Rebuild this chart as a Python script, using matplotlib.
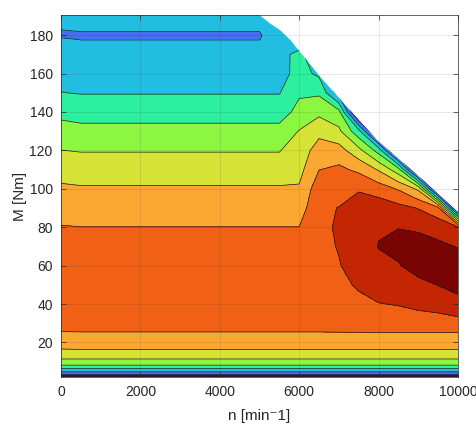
import numpy as np
import matplotlib
matplotlib.use("Agg")
import matplotlib.pyplot as plt
from matplotlib.patches import Polygon

plt.rcParams['font.family'] = ['Liberation Sans', 'DejaVu Sans']

# speed grid [min^-1] (columns) and torque grid [Nm] (rows)
speed = [0, 500, 5000, 5100, 5500, 6000, 6500, 7000, 7500, 8000, 8500, 9000, 9500, 10000]
torque = [2, 3, 4, 5, 6, 7, 8, 10, 12, 16, 20, 25, 30, 40, 50, 60, 70, 80, 90, 100,
          110, 120, 130, 140, 150, 160, 170, 176, 178, 180, 182, 184, 190]

efficiency = [
    [84.9, 84.9, 84.9, 84.9, 84.9, 84.9, 84.9, 84.9, 84.9, 84.9, 84.9, 84.9, 84.9, 84.9],
    [85.7, 85.7, 85.7, 85.7, 85.7, 85.7, 85.7, 85.7, 85.7, 85.7, 85.7, 85.7, 85.7, 85.7],
    [86.5, 86.5, 86.5, 86.5, 86.5, 86.5, 86.5, 86.5, 86.5, 86.5, 86.5, 86.5, 86.5, 86.5],
    [87.2, 87.2, 87.2, 87.2, 87.2, 87.2, 87.2, 87.2, 87.2, 87.2, 87.2, 87.2, 87.2, 87.2],
    [87.8, 87.8, 87.8, 87.8, 87.8, 87.8, 87.8, 87.8, 87.8, 87.8, 87.8, 87.8, 87.8, 87.8],
    [88.3, 88.3, 88.3, 88.3, 88.3, 88.3, 88.3, 88.3, 88.3, 88.3, 88.3, 88.3, 88.3, 88.3],
    [88.95, 88.95, 88.95, 88.95, 88.95, 88.95, 88.95, 88.95, 88.95, 88.95, 88.95, 88.95, 88.95, 88.95],
    [89.55, 89.55, 89.55, 89.55, 89.55, 89.55, 89.55, 89.55, 89.55, 89.55, 89.55, 89.55, 89.55, 89.55],
    [90.2, 90.2, 90.2, 90.2, 90.2, 90.2, 90.2, 90.2, 90.2, 90.2, 90.2, 90.2, 90.2, 90.2],
    [90.95, 90.97, 90.97, 90.97, 90.97, 90.97, 90.97, 90.97, 90.97, 90.97, 90.97, 90.97, 90.97, 90.97],
    [91.3, 91.3, 91.3, 91.3, 91.3, 91.3, 91.3, 91.3, 91.3, 91.3, 91.3, 91.3, 91.3, 91.3],
    [91.97, 91.98, 91.98, 91.98, 91.98, 91.98, 91.98, 91.98, 91.98, 91.98, 91.98, 91.98, 91.98, 91.98],
    [92.2, 92.2, 92.2, 92.2, 92.2, 92.2, 92.2, 92.3, 92.35, 92.4, 92.5, 92.6, 92.65, 92.7],
    [92.5, 92.5, 92.5, 92.5, 92.5, 92.5, 92.5, 92.6, 92.8, 92.97, 93.05, 93.2, 93.3, 93.6],
    [92.6, 92.6, 92.6, 92.6, 92.6, 92.6, 92.65, 92.8, 93.1, 93.4, 93.6, 93.8, 94.02, 94.4],
    [92.6, 92.55, 92.55, 92.55, 92.55, 92.55, 92.7, 92.95, 93.4, 93.85, 93.95, 94.3, 94.5, 94.5],
    [92.4, 92.35, 92.35, 92.35, 92.35, 92.35, 92.75, 93.05, 93.6, 94.02, 94.2, 94.4, 94.2, 93.95],
    [92.06, 92.01, 92.01, 92.01, 92.01, 92.01, 92.8, 93.1, 93.7, 93.95, 93.98, 93.85, 93.6, 93.1],
    [91.5, 91.5, 91.5, 91.5, 91.5, 91.5, 92.85, 93.02, 93.5, 93.6, 93.3, 92.95, 92.3, 84.0],
    [91.18, 91.1, 91.1, 91.1, 91.1, 91.1, 92.6, 92.7, 92.9, 92.5, 91.9, 90.8, 84.0, 84.5],
    [90.55, 90.5, 90.5, 90.5, 90.5, 90.7, 91.98, 92.2, 91.8, 90.9, 89.4, 84.0, 84.5, 84.5],
    [90.01, 89.95, 89.95, 89.95, 89.95, 90.5, 91.4, 91.4, 90.3, 88.6, 84.0, 84.5, 84.5, 84.5],
    [89.35, 89.25, 89.25, 89.25, 89.25, 90.05, 90.75, 90.2, 88.3, 84.0, 84.5, 84.5, 84.5, 84.5],
    [88.75, 88.65, 88.65, 88.65, 88.65, 89.23, 89.75, 89.3, 84.0, 84.5, 84.5, 84.5, 84.5, 84.5],
    [88.02, 87.95, 87.95, 87.95, 87.95, 88.9, 88.85, 86.5, 84.5, 84.5, 84.5, 84.5, 84.5, 84.5],
    [87.6, 87.6, 87.6, 87.6, 87.6, 88.37, 87.8, 85.0, 84.5, 84.5, 84.5, 84.5, 84.5, 84.5],
    [87.4, 87.4, 87.4, 87.4, 87.45, 88.47, 86.5, 84.5, 84.5, 84.5, 84.5, 84.5, 84.5, 84.5],
    [87.3, 87.3, 87.3, 87.3, 87.4, 87.2, 84.5, 84.5, 84.5, 84.5, 84.5, 84.5, 84.5, 84.5],
    [87.15, 86.9, 86.9, 87.3, 87.4, 87.2, 84.5, 84.5, 84.5, 84.5, 84.5, 84.5, 84.5, 84.5],
    [86.7, 86.5, 86.5, 87.3, 87.4, 87.2, 84.5, 84.5, 84.5, 84.5, 84.5, 84.5, 84.5, 84.5],
    [86.8, 87.05, 87.05, 87.3, 87.3, 87.2, 84.5, 84.5, 84.5, 84.5, 84.5, 84.5, 84.5, 84.5],
    [87.3, 87.3, 87.3, 87.3, 87.3, 87.2, 84.5, 84.5, 84.5, 84.5, 84.5, 84.5, 84.5, 84.5],
    [87.5, 87.5, 87.5, 87.5, 87.3, 87.2, 84.5, 84.5, 84.5, 84.5, 84.5, 84.5, 84.5, 84.5],
]

# full-load torque envelope
env_speed = [0, 4800, 5000, 5270, 5520, 5780, 6530, 7200, 7960, 9118, 10000]
env_torque = [200, 200, 190.5, 186, 182.6, 177.4, 158.3, 142.7, 125.4, 104.5, 87.8]

levels = [70, 86, 87, 88, 89, 90, 91, 92, 93, 94, 100]
band_colors = ['#30123b', '#466ef0', '#21bee2', '#2cf09e', '#8bf740',
               '#d5e236', '#faa832', '#f06015', '#c42603', '#7a0403']

xticks = [0, 2000, 4000, 6000, 8000, 10000]
yticks = [20, 40, 60, 80, 100, 120, 140, 160, 180]

W, H = 477, 428
fig = plt.figure(figsize=(W / 100, H / 100), dpi=100)
ax = fig.add_axes([61 / W, 1 - 377 / H, (458 - 61) / W, (377 - 15) / H])

N, T = np.meshgrid(speed, torque)
Z = np.array(efficiency)
cs = ax.contourf(N, T, Z, levels=levels, colors=band_colors)
cl = ax.contour(N, T, Z, levels=levels[1:-1], colors='#1a1a1a', linewidths=0.5)

poly = Polygon(list(zip(env_speed + [10000, 0], env_torque + [0, 0])), closed=True,
               transform=ax.transData, facecolor='none', edgecolor='none')
cs.set_clip_path(poly)
cl.set_clip_path(poly)

ax.set_xlim(0, 10000)
ax.set_ylim(2, 190.5)
ax.set_xticks(xticks)
ax.set_yticks(yticks)
ax.grid(True, color='#262626', alpha=0.15, linewidth=0.5)
ax.set_axisbelow(False)
ax.tick_params(direction='in', top=True, right=True, length=3.5, width=0.5,
               colors='#262626', labelsize=10, pad=6)
for s in ax.spines.values():
    s.set_color('#262626')
    s.set_linewidth(0.5)
ax.set_xlabel('n [min\u207b1]', fontsize=11, color='#262626', labelpad=7)
ax.set_ylabel('M [Nm]', fontsize=11, color='#262626', labelpad=2)

fig.savefig('out.png', dpi=100)
